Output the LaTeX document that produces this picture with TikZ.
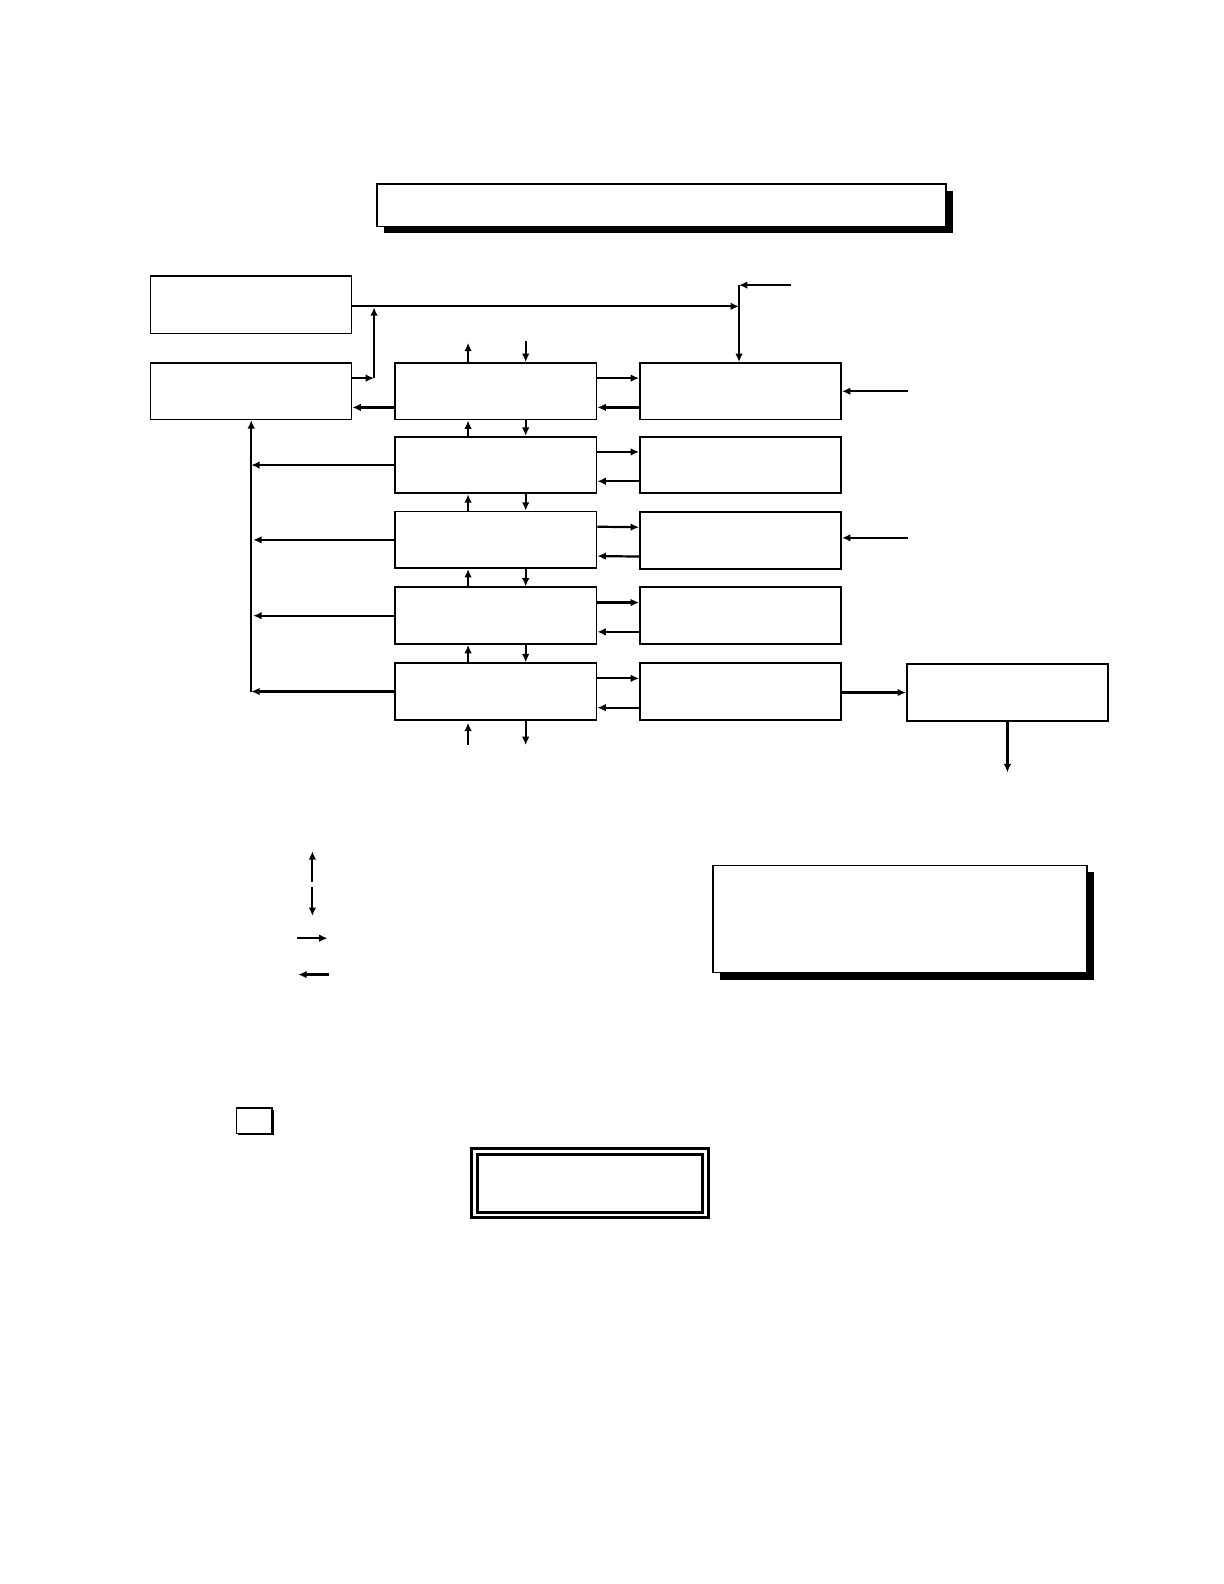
\documentclass[tikz,border=0pt]{standalone}
\usetikzlibrary{arrows.meta,shadows}
\newlength\px
\setlength\px{0.5055pt}
\tikzstyle{block} = [rectangle, draw=black, line width=0.9pt, minimum width=199*\px, minimum height=56*\px, inner sep=0pt]
\tikzstyle{thinblock} = [block, line width=0.6pt, minimum height=57*\px]
\tikzstyle{banner} = [rectangle, draw=black, fill=white, line width=0.9pt, inner sep=0pt, drop shadow={shadow xshift=3.5pt, shadow yshift=-3.5pt, fill=black, opacity=1}]
\tikzstyle{arrow} = [line width=1.1pt, -{Latex[length=4.2pt,width=3.8pt]}]

\begin{document}
\begin{tikzpicture}[x=0.5055pt, y=-0.5055pt]
\useasboundingbox (0,0) rectangle (1210.7,1566.8);

\node (title) [banner, minimum width=563*\px, minimum height=42*\px] at (654.5,203) {};
\node (src) [thinblock] at (248.5,301.5) {};
\node (ctrl) [thinblock, minimum height=56*\px] at (248.5,387) {};
\node (stage1) [block] at (490.5,387) {};
\node (stage2) [block] at (490.5,460) {};
\node (stage3) [block] at (490.5,534) {};
\node (stage4) [block] at (490.5,609) {};
\node (stage5) [block] at (490.5,684) {};
\node (unit1) [block] at (732.5,387) {};
\node (unit2) [block] at (732.5,460) {};
\node (unit3) [block] at (732.5,534.5) {};
\node (unit4) [block] at (732.5,609) {};
\node (unit5) [block] at (732.5,684) {};
\node (out) [block] at (996.5,685) {};
\node (note) [banner, line width=0.8pt, minimum width=370*\px, minimum height=106*\px] at (890,909) {};
\node (key) [rectangle, draw=black, line width=0.7pt, minimum width=35*\px, minimum height=25*\px, drop shadow={shadow xshift=0.8pt, shadow yshift=-0.8pt, fill=black, opacity=1}, fill=white] at (251.5,1108.5) {};
\node (frame) [rectangle, draw=black, double, line width=1.5pt, double distance=1.35pt, inner sep=0pt, minimum width=228.4*\px, minimum height=62.4*\px] at (583.5,1170.5) {};

\coordinate (feed) at (782,282);
\coordinate (tap) at (731,282);
\coordinate (riser) at (370,374);
\coordinate (upA) at (463,339);
\coordinate (inA) at (520,337);
\coordinate (upB) at (463,737);
\coordinate (outB) at (520,737);
\coordinate (inU1) at (898,387);
\coordinate (inU3) at (898,532);
\coordinate (sink) at (997,764);

\draw [arrow] (feed) -- (tap);
\draw [arrow] (tap) -- (tap |- unit1.north);
\draw [arrow] ([shift={(0,1.5)}]src.east) -- ([shift={(0,1.5)}]src.east -| tap);
\draw [arrow] ([shift={(0,-13)}]ctrl.east) -- (riser);
\draw [arrow] (riser) -- ([shift={(0,2.5)}]riser |- src.east);
\draw [arrow] ([shift={(0,16)}]stage1.west) -- ([shift={(0,16)}]ctrl.east);

\draw [arrow] ([shift={(0,-13)}]stage1.east) -- ([shift={(0,-13)}]unit1.west);
\draw [arrow] ([shift={(0,16)}]unit1.west) -- ([shift={(0,16)}]stage1.east);
\draw [arrow] ([shift={(0,-13)}]stage2.east) -- ([shift={(0,-13)}]unit2.west);
\draw [arrow] ([shift={(0,16)}]unit2.west) -- ([shift={(0,16)}]stage2.east);
\draw [arrow] ([shift={(0,-13)}]stage3.east) -- ([shift={(0,-13)}]unit3.west);
\draw [arrow] ([shift={(0,16)}]unit3.west) -- ([shift={(0,16)}]stage3.east);
\draw [arrow] ([shift={(0,-13)}]stage4.east) -- ([shift={(0,-13)}]unit4.west);
\draw [arrow] ([shift={(0,16)}]unit4.west) -- ([shift={(0,16)}]stage4.east);
\draw [arrow] ([shift={(0,-13)}]stage5.east) -- ([shift={(0,-13)}]unit5.west);
\draw [arrow] ([shift={(0,16)}]unit5.west) -- ([shift={(0,16)}]stage5.east);

\draw [arrow] ([shift={(-27.5,0)}]stage1.north) -- (upA);
\draw [arrow] (inA) -- ([shift={(29.5,0)}]stage1.north);
\draw [arrow] ([shift={(-27.5,0)}]stage2.north) -- ([shift={(-27.5,0)}]stage1.south);
\draw [arrow] ([shift={(29.5,0)}]stage1.south) -- ([shift={(29.5,0)}]stage2.north);
\draw [arrow] ([shift={(-27.5,0)}]stage3.north) -- ([shift={(-27.5,0)}]stage2.south);
\draw [arrow] ([shift={(29.5,0)}]stage2.south) -- ([shift={(29.5,0)}]stage3.north);
\draw [arrow] ([shift={(-27.5,0)}]stage4.north) -- ([shift={(-27.5,0)}]stage3.south);
\draw [arrow] ([shift={(29.5,0)}]stage3.south) -- ([shift={(29.5,0)}]stage4.north);
\draw [arrow] ([shift={(-27.5,0)}]stage5.north) -- ([shift={(-27.5,0)}]stage4.south);
\draw [arrow] ([shift={(29.5,0)}]stage4.south) -- ([shift={(29.5,0)}]stage5.north);
\draw [arrow] (upB) -- ([shift={(-27.5,2)}]stage5.south);
\draw [arrow] ([shift={(29.5,0)}]stage5.south) -- (outB);

\draw [arrow] (stage5.west) -- (stage5.west -| ctrl.south);
\draw [arrow] (stage5.west -| ctrl.south) -- (ctrl.south);
\draw [arrow] (stage2.west) -- (stage2.west -| ctrl.south);
\draw [arrow] (stage3.west) -- ([shift={(2,0)}]stage3.west -| ctrl.south);
\draw [arrow] (stage4.west) -- ([shift={(2,0)}]stage4.west -| ctrl.south);

\draw [arrow] (inU1) -- (unit1.east);
\draw [arrow] (inU3) -- (inU3 -| unit3.east);
\draw [arrow] ([shift={(0,1)}]unit5.east) -- (out.west);
\draw [arrow] (out.south) -- (out.south |- sink);

% legend
\coordinate (kUp0) at (309,872);
\coordinate (kUp1) at (309,842);
\coordinate (kDn0) at (309,877);
\coordinate (kDn1) at (309,906);
\coordinate (kR0) at (294,928);
\coordinate (kR1) at (324,928);
\coordinate (kL0) at (325,964);
\coordinate (kL1) at (295,964);
\draw [arrow] (kUp0) -- (kUp1);
\draw [arrow] (kDn0) -- (kDn1);
\draw [arrow] (kR0) -- (kR1);
\draw [arrow] (kL0) -- (kL1);

\end{tikzpicture}
\end{document}
